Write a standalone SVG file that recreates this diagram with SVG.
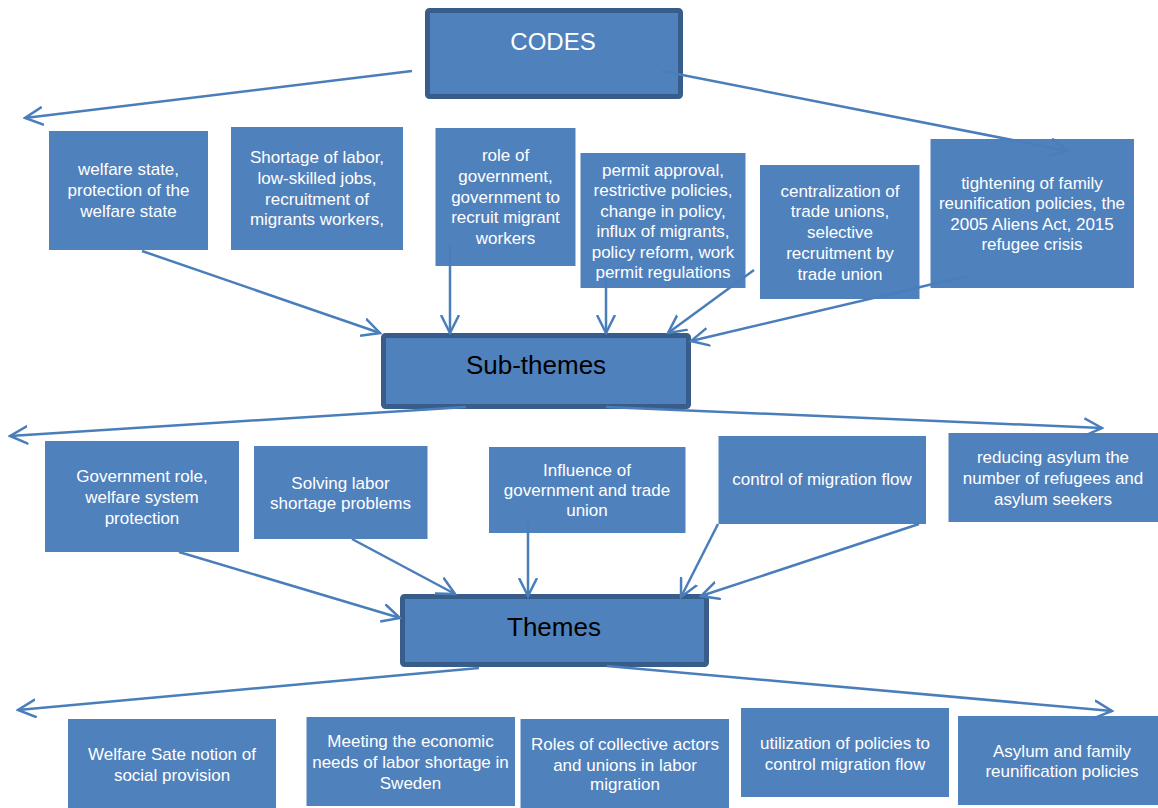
<svg xmlns="http://www.w3.org/2000/svg" width="1158" height="808" viewBox="0 0 1158 808">
<style>
.bx{fill:#4f81bd;}
.big{fill:#4f81bd;stroke:#385d8a;stroke-width:5;}
.t{font-family:"Liberation Sans",Arial,sans-serif;font-size:17px;fill:#ffffff;text-anchor:middle;}
.h{font-family:"Liberation Sans",Arial,sans-serif;font-size:26px;fill:#000000;text-anchor:middle;}
.hw{font-family:"Liberation Sans",Arial,sans-serif;font-size:24px;fill:#ffffff;text-anchor:middle;}
.c{fill:none;stroke:#4a7ebb;stroke-width:2.5;marker-end:url(#ah);}
</style>
<defs>
<marker id="ah" viewBox="0 0 20 20" refX="18" refY="10" markerWidth="20" markerHeight="20" markerUnits="userSpaceOnUse" orient="auto">
<path d="M0,1 L18,10 L0,19" fill="none" stroke="#4a7ebb" stroke-width="2.5"/>
</marker>
</defs>
<rect width="1158" height="808" fill="#ffffff"/>

<g id="codes">
<rect class="big" x="427.5" y="10.5" width="253" height="86" rx="2"/>
<text class="hw" x="553" y="50">CODES</text>
</g>

<g id="code1">
<rect class="bx" x="49" y="131" width="159" height="119"/>
<text class="t"><tspan x="128.5" y="175">welfare state,</tspan><tspan x="128.5" y="196">protection of the</tspan><tspan x="128.5" y="217">welfare state</tspan></text>
</g>
<g id="code2">
<rect class="bx" x="231" y="127" width="172" height="123"/>
<text class="t"><tspan x="317" y="163">Shortage of labor,</tspan><tspan x="317" y="184">low-skilled jobs,</tspan><tspan x="317" y="205">recruitment of</tspan><tspan x="317" y="225">migrants workers,</tspan></text>
</g>
<g id="code3">
<rect class="bx" x="435.5" y="128" width="140" height="138"/>
<text class="t"><tspan x="505.5" y="161">role of</tspan><tspan x="505.5" y="182">government,</tspan><tspan x="505.5" y="203">government to</tspan><tspan x="505.5" y="223">recruit migrant</tspan><tspan x="505.5" y="244">workers</tspan></text>
</g>
<g id="code4">
<rect class="bx" x="580.5" y="153" width="165" height="135"/>
<text class="t"><tspan x="663" y="176">permit approval,</tspan><tspan x="663" y="196">restrictive policies,</tspan><tspan x="663" y="217">change in policy,</tspan><tspan x="663" y="237">influx of migrants,</tspan><tspan x="663" y="258">policy reform, work</tspan><tspan x="663" y="278">permit regulations</tspan></text>
</g>
<g id="code5">
<rect class="bx" x="760" y="165" width="159.5" height="134"/>
<text class="t"><tspan x="840" y="197">centralization of</tspan><tspan x="840" y="217">trade unions,</tspan><tspan x="840" y="238">selective</tspan><tspan x="840" y="259">recruitment by</tspan><tspan x="840" y="280">trade union</tspan></text>
</g>
<g id="code6">
<rect class="bx" x="930.5" y="139" width="203.5" height="149"/>
<text class="t"><tspan x="1032" y="189">tightening of family</tspan><tspan x="1032" y="209">reunification policies, the</tspan><tspan x="1032" y="230">2005 Aliens Act, 2015</tspan><tspan x="1032" y="250">refugee crisis</tspan></text>
</g>

<g id="subthemes">
<rect class="big" x="383.5" y="335.5" width="305" height="71" rx="2"/>
<text class="h" x="536" y="374">Sub-themes</text>
</g>

<g id="sub1">
<rect class="bx" x="45" y="441" width="194" height="111"/>
<text class="t"><tspan x="142" y="482">Government role,</tspan><tspan x="142" y="503">welfare system</tspan><tspan x="142" y="524">protection</tspan></text>
</g>
<g id="sub2">
<rect class="bx" x="254" y="446" width="173.5" height="93"/>
<text class="t"><tspan x="340.5" y="489">Solving labor</tspan><tspan x="340.5" y="509">shortage problems</tspan></text>
</g>
<g id="sub3">
<rect class="bx" x="489" y="447" width="196.5" height="86"/>
<text class="t"><tspan x="587" y="476">Influence of</tspan><tspan x="587" y="496">government and trade</tspan><tspan x="587" y="516">union</tspan></text>
</g>
<g id="sub4">
<rect class="bx" x="718.5" y="436" width="207.5" height="88"/>
<text class="t"><tspan x="822" y="485">control of migration flow</tspan></text>
</g>
<g id="sub5">
<rect class="bx" x="948.5" y="433" width="209.5" height="89"/>
<text class="t"><tspan x="1053" y="463">reducing asylum the</tspan><tspan x="1053" y="484">number of refugees and</tspan><tspan x="1053" y="505">asylum seekers</tspan></text>
</g>

<g id="themes">
<rect class="big" x="402.5" y="596.5" width="304" height="68" rx="2"/>
<text class="h" x="554" y="636">Themes</text>
</g>

<g id="theme1">
<rect class="bx" x="68" y="719" width="208" height="89"/>
<text class="t"><tspan x="172" y="760">Welfare Sate notion of</tspan><tspan x="172" y="781">social provision</tspan></text>
</g>
<g id="theme2">
<rect class="bx" x="306.5" y="717" width="208.5" height="89"/>
<text class="t"><tspan x="410.5" y="747">Meeting the economic</tspan><tspan x="410.5" y="768">needs of labor shortage in</tspan><tspan x="410.5" y="789">Sweden</tspan></text>
</g>
<g id="theme3">
<rect class="bx" x="520.5" y="719" width="208.5" height="89"/>
<text class="t"><tspan x="625" y="750">Roles of collective actors</tspan><tspan x="625" y="771">and unions in labor</tspan><tspan x="625" y="790">migration</tspan></text>
</g>
<g id="theme4">
<rect class="bx" x="741" y="708" width="208" height="89"/>
<text class="t"><tspan x="845" y="749">utilization of policies to</tspan><tspan x="845" y="770">control migration flow</tspan></text>
</g>
<g id="theme5">
<rect class="bx" x="958" y="716" width="200" height="89"/>
<text class="t"><tspan x="1062" y="757">Asylum and family</tspan><tspan x="1062" y="777">reunification policies</tspan></text>
</g>

<g id="connectors">
<path class="c" d="M412,71 L25,118"/>
<path class="c" d="M662,71 L1068,151"/>
<path class="c" d="M142,251 L380,333"/>
<path class="c" d="M450,245 L450,333"/>
<path class="c" d="M606,278 L606,333"/>
<path class="c" d="M754,270 L668,333"/>
<path class="c" d="M967,276 L691,341"/>
<path class="c" d="M466,407 L10,436"/>
<path class="c" d="M606,407 L1102,428"/>
<path class="c" d="M179,552 L400,618"/>
<path class="c" d="M352,539 L455,594"/>
<path class="c" d="M528,523 L528,596"/>
<path class="c" d="M718,524 L681,597"/>
<path class="c" d="M919,524 L701,596"/>
<path class="c" d="M479,668 L18,710"/>
<path class="c" d="M607,666 L1112,711"/>
</g>
</svg>
